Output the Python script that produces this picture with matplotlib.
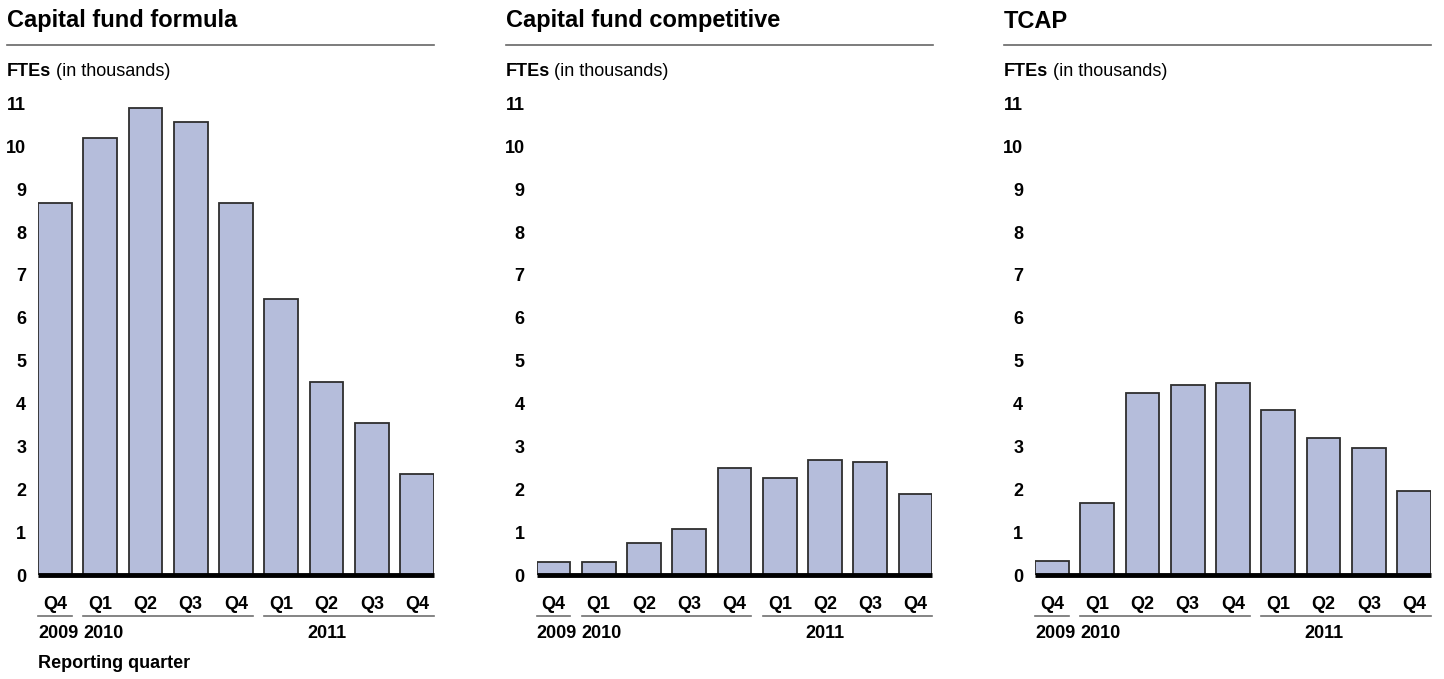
import matplotlib
matplotlib.use('Agg')
from matplotlib import pyplot as plt
from matplotlib.lines import Line2D
import numpy as np

# data (FTEs in thousands)
quarters = ['Q4', 'Q1', 'Q2', 'Q3', 'Q4', 'Q1', 'Q2', 'Q3', 'Q4']
titles = ['Capital fund formula', 'Capital fund competitive', 'TCAP']
formula = [8.67, 10.19, 10.89, 10.58, 8.67, 6.43, 4.50, 3.55, 2.36]
competitive = [0.31, 0.31, 0.75, 1.08, 2.50, 2.27, 2.68, 2.63, 1.89]
tcap = [0.33, 1.69, 4.25, 4.43, 4.47, 3.85, 3.20, 2.96, 1.96]
# year groups: (label, first bar, last bar, label anchor bar, alignment)
years = [('2009', 0, 0, 0, 'left'), ('2010', 1, 4, 1, 'left'), ('2011', 5, 8, 6, 'center')]
yticks = list(range(0, 12))

W, H = 1444, 679
FONT = 'Liberation Sans'
BAR = '#b5bddb'
FS = 13
plt.rcParams['font.family'] = FONT

fig = plt.figure(figsize=(W / 100, H / 100), dpi=100)
fig.patch.set_facecolor('white')

bw = 0.75
x = np.arange(len(quarters))
base_px = 575      # pixel row of zero line (from top)
top_px = 103.5     # pixel row of 11
ax_h = base_px - top_px


def fy(py):
    return 1 - py / H


def fx(px):
    return px / W


for k, (title, vals) in enumerate(zip(titles, [formula, competitive, tcap])):
    off = k * 498.5
    left = 38 + off
    right = 434 + off
    ax = fig.add_axes([fx(left), fy(base_px), fx(right - left), ax_h / H])
    ax.bar(x, vals, width=bw, color=BAR, edgecolor='#2e2e2e', linewidth=1.3, zorder=2)
    ax.set_xlim(-bw / 2, len(x) - 1 + bw / 2)
    ax.set_ylim(0, 11)
    ax.plot([-bw / 2, len(x) - 1 + bw / 2], [0, 0], color='black', lw=3.5,
            solid_capstyle='butt', clip_on=False, zorder=3)
    for s in ax.spines.values():
        s.set_visible(False)
    ax.set_yticks(yticks)
    ax.set_yticklabels([str(t) for t in yticks], fontsize=FS, fontweight='bold')
    ax.tick_params(axis='y', length=0, pad=8.5)
    ax.set_xticks(x)
    ax.set_xticklabels(quarters, fontsize=FS, fontweight='bold')
    ax.tick_params(axis='x', length=0, pad=15)

    tr = ax.get_xaxis_transform()
    uy = -(616 - base_px) / ax_h
    yy = -(633 - base_px) / ax_h
    for lab, a, b, anchor, ha in years:
        ax.plot([a - bw / 2, b + bw / 2], [uy, uy], transform=tr, color='#707070',
                lw=1.2, clip_on=False)
        xt = anchor - bw / 2 if ha == 'left' else anchor
        ax.text(xt, yy, lab, transform=tr, ha=ha, va='center', fontsize=FS,
                fontweight='bold')

    tx = 7 + off
    fig.text(fx(tx), fy(21), title, fontsize=17, fontweight='bold', va='center', ha='left')
    fig.add_artist(Line2D([fx(tx), fx(right)], [fy(45), fy(45)], color='#666666', lw=1.2))
    fig.text(fx(tx), fy(72), 'FTEs', fontsize=FS, fontweight='bold', va='center', ha='left')
    fig.text(fx(tx + 49), fy(72), '(in thousands)', fontsize=FS, va='center', ha='left')

fig.text(fx(38), fy(664), 'Reporting quarter', fontsize=FS, fontweight='bold',
         va='center', ha='left')

fig.savefig('out.png', dpi=100, facecolor='white')
